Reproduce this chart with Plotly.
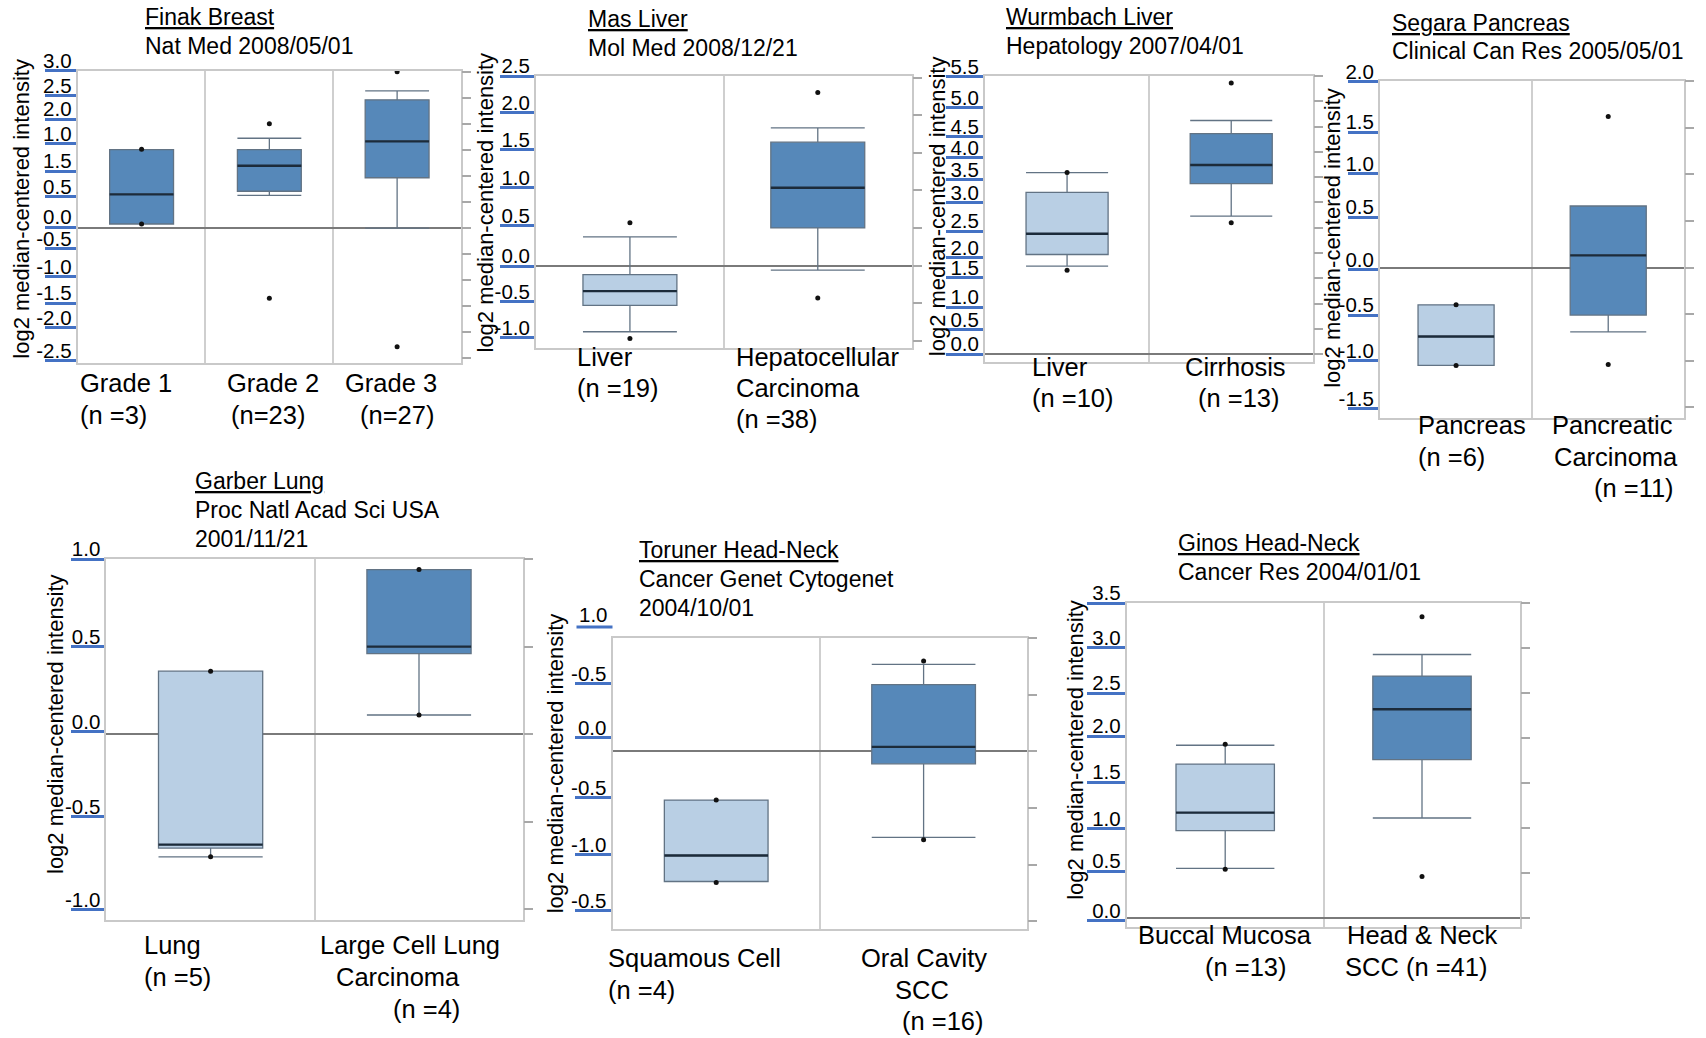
import plotly.graph_objects as go

W, H = 1706, 1038
FONT = "Liberation Sans, Arial, Helvetica, sans-serif"

# ------------------------------------------------------------------ data
FINAK_TITLE = ["Finak Breast", "Nat Med 2008/05/01"]
FINAK_CATS = ["Grade 1", "Grade 2", "Grade 3"]
FINAK_LABELS = [["Grade 1", "(n =3)"], ["Grade 2", "(n=23)"], ["Grade 3", "(n=27)"]]
FINAK_Q1 = [0.08, 0.71, 0.97]
FINAK_MED = [0.65, 1.20, 1.67]
FINAK_Q3 = [1.51, 1.51, 2.47]
FINAK_LO = [0.08, 0.63, 0.00]
FINAK_HI = [1.51, 1.73, 2.64]
FINAK_OUT = [[1.52, 0.08], [2.01, -1.35], [3.01, -2.28]]
FINAK_TICKTEXT = ["3.0", "2.5", "2.0", "1.0", "1.5", "0.5", "0.0", "-0.5", "-1.0", "-1.5", "-2.0", "-2.5"]
FINAK_TICKVALS = [3.03, 2.55, 2.10, 1.62, 1.10, 0.61, 0.02, -0.40, -0.93, -1.44, -1.92, -2.55]
FINAK_YRANGE = [-2.60, 3.03]
FINAK_SCALE = [-2.5, -2.0, -1.5, -1.0, -0.5, 0.0, 0.5, 1.0, 1.5, 2.0, 2.5, 3.0]

MAS_TITLE = ["Mas Liver", "Mol Med 2008/12/21"]
MAS_CATS = ["Liver", "Hepatocellular Carcinoma"]
MAS_LABELS = [["Liver", "(n =19)"], ["Hepatocellular", "Carcinoma", "(n =38)"]]
MAS_Q1 = [-0.53, 0.50]
MAS_MED = [-0.34, 1.035]
MAS_Q3 = [-0.12, 1.64]
MAS_LO = [-0.88, -0.06]
MAS_HI = [0.38, 1.83]
MAS_OUT = [[0.57, -0.97], [2.30, -0.43]]
MAS_TICKTEXT = ["2.5", "2.0", "1.5", "1.0", "0.5", "0.0", "-0.5", "-1.0"]
MAS_TICKVALS = [2.52, 2.03, 1.54, 1.04, 0.53, -0.01, -0.48, -0.96]
MAS_YRANGE = [-1.10, 2.52]
MAS_SCALE = [-1.0, -0.5, 0.0, 0.5, 1.0, 1.5, 2.0, 2.5]

WURM_TITLE = ["Wurmbach Liver", "Hepatology 2007/04/01"]
WURM_CATS = ["Liver", "Cirrhosis"]
WURM_LABELS = [["Liver", "(n =10)"], ["Cirrhosis", "(n =13)"]]
WURM_Q1 = [1.97, 3.37]
WURM_MED = [2.38, 3.74]
WURM_Q3 = [3.20, 4.36]
WURM_LO = [1.74, 2.73]
WURM_HI = [3.59, 4.62]
WURM_OUT = [[3.59, 1.66], [5.36, 2.60]]
WURM_TICKTEXT = ["5.5", "5.0", "4.5", "4.0", "3.5", "3.0", "2.5", "2.0", "1.5", "1.0", "0.5", "0.0"]
WURM_TICKVALS = [5.49, 4.88, 4.30, 3.89, 3.45, 2.99, 2.43, 1.91, 1.51, 0.93, 0.49, 0.0]
WURM_YRANGE = [-0.15, 5.5]
WURM_SCALE = [0.0, 0.5, 1.0, 1.5, 2.0, 2.5, 3.0, 3.5, 4.0, 4.5, 5.0, 5.5]

SEGARA_TITLE = ["Segara Pancreas", "Clinical Can Res 2005/05/01"]
SEGARA_CATS = ["Pancreas", "Pancreatic Carcinoma"]
SEGARA_LABELS = [["Pancreas", "(n =6)"], ["Pancreatic", "Carcinoma", "(n =11)"]]
SEGARA_Q1 = [-1.05, -0.51]
SEGARA_MED = [-0.74, 0.13]
SEGARA_Q3 = [-0.40, 0.66]
SEGARA_LO = [-1.05, -0.69]
SEGARA_HI = [-0.40, 0.66]
SEGARA_OUT = [[-0.40, -1.05], [1.62, -1.04]]
SEGARA_TICKTEXT = ["2.0", "1.5", "1.0", "0.5", "0.0", "-0.5", "-1.0", "-1.5"]
SEGARA_TICKVALS = [1.99, 1.45, 1.01, 0.54, -0.02, -0.51, -1.0, -1.51]
SEGARA_YRANGE = [-1.61, 2.0]
SEGARA_SCALE = [-1.5, -1.0, -0.5, 0.0, 0.5, 1.0, 1.5, 2.0]

GARBER_TITLE = ["Garber Lung", "Proc Natl Acad Sci USA", "2001/11/21"]
GARBER_CATS = ["Lung", "Large Cell Lung Carcinoma"]
GARBER_LABELS = [["Lung", "(n =5)"], ["Large Cell Lung", "Carcinoma", "(n =4)"]]
GARBER_Q1 = [-0.65, 0.46]
GARBER_MED = [-0.63, 0.50]
GARBER_Q3 = [0.36, 0.94]
GARBER_LO = [-0.70, 0.11]
GARBER_HI = [0.36, 0.94]
GARBER_OUT = [[0.36, -0.70], [0.94, 0.11]]
GARBER_TICKTEXT = ["1.0", "0.5", "0.0", "-0.5", "-1.0"]
GARBER_TICKVALS = [1.0, 0.50, 0.015, -0.47, -1.0]
GARBER_YRANGE = [-1.06, 1.0]
GARBER_SCALE = [-1.0, -0.5, 0.0, 0.5, 1.0]

TORUNER_TITLE = ["Toruner Head-Neck", "Cancer Genet Cytogenet", "2004/10/01"]
TORUNER_CATS = ["Squamous Cell", "Oral Cavity SCC"]
TORUNER_LABELS = [["Squamous Cell", "(n =4)"], ["Oral Cavity", "SCC", "(n =16)"]]
TORUNER_Q1 = [-1.15, -0.11]
TORUNER_MED = [-0.92, 0.04]
TORUNER_Q3 = [-0.43, 0.59]
TORUNER_LO = [-1.15, -0.76]
TORUNER_HI = [-0.43, 0.77]
TORUNER_OUT = [[-0.43, -1.16], [0.80, -0.78]]
TORUNER_TICKTEXT = ["1.0", "-0.5", "0.0", "-0.5", "-1.0", "-0.5"]
TORUNER_TICKVALS = [1.10, 0.60, 0.12, -0.41, -0.91, -1.41]
TORUNER_YRANGE = [-1.57, 1.0]
TORUNER_SCALE = [-1.5, -1.0, -0.5, 0.0, 0.5, 1.0]

GINOS_TITLE = ["Ginos Head-Neck", "Cancer Res 2004/01/01"]
GINOS_CATS = ["Buccal Mucosa", "Head & Neck SCC"]
GINOS_LABELS = [["Buccal Mucosa", "(n =13)"], ["Head & Neck", "SCC (n =41)"]]
GINOS_Q1 = [0.97, 1.76]
GINOS_MED = [1.17, 2.32]
GINOS_Q3 = [1.71, 2.69]
GINOS_LO = [0.55, 1.11]
GINOS_HI = [1.92, 2.93]
GINOS_OUT = [[1.93, 0.54], [3.35, 0.46]]
GINOS_TICKTEXT = ["3.5", "3.0", "2.5", "2.0", "1.5", "1.0", "0.5", "0.0"]
GINOS_TICKVALS = [3.50, 3.01, 2.50, 2.02, 1.51, 0.99, 0.52, -0.03]
GINOS_YRANGE = [-0.10, 3.5]
GINOS_SCALE = [0.0, 0.5, 1.0, 1.5, 2.0, 2.5, 3.0, 3.5]

Y_TITLE = "log2 median-centered intensity"

# ------------------------------------------------------------------ styles
DARK = "#5688b9"
LIGHT = "#b9cfe4"
BOX_LINE = "#627384"
MED_LINE = "#1c2b3a"
BLUE = "#4472c4"
FRAME = "#c9c9c9"
GRID = "#cfcfcf"

PANELS = [
    dict(title=FINAK_TITLE, cats=FINAK_CATS, labels=FINAK_LABELS, q1=FINAK_Q1, med=FINAK_MED, q3=FINAK_Q3,
         lo=FINAK_LO, hi=FINAK_HI, out=FINAK_OUT, ticktext=FINAK_TICKTEXT, tickvals=FINAK_TICKVALS,
         yrange=FINAK_YRANGE, scale=FINAK_SCALE,
         frame=(77.7, 70.7, 461, 363.3), ticklen=31, shades=[DARK, DARK, DARK],
         title_xy=(143.3, [16.7, 45.7]), ytitle_xy=(21.7, 209),
         label_x=[[78.3, 78.3], [225, 229.3], [342.7, 358.3]], label_y=[383.3, 415]),
    dict(title=MAS_TITLE, cats=MAS_CATS, labels=MAS_LABELS, q1=MAS_Q1, med=MAS_MED, q3=MAS_Q3,
         lo=MAS_LO, hi=MAS_HI, out=MAS_OUT, ticktext=MAS_TICKTEXT, tickvals=MAS_TICKVALS,
         yrange=MAS_YRANGE, scale=MAS_SCALE,
         frame=(536, 76, 911.7, 348.3), ticklen=34, shades=[LIGHT, DARK],
         title_xy=(586, [19, 47.7]), ytitle_xy=(485, 202.5),
         label_x=[[575, 575], [734.3, 734.3, 734.3]], label_y=[356.7, 388.3, 419.3]),
    dict(title=WURM_TITLE, cats=WURM_CATS, labels=WURM_LABELS, q1=WURM_Q1, med=WURM_MED, q3=WURM_Q3,
         lo=WURM_LO, hi=WURM_HI, out=WURM_OUT, ticktext=WURM_TICKTEXT, tickvals=WURM_TICKVALS,
         yrange=WURM_YRANGE, scale=WURM_SCALE,
         frame=(985, 76, 1313.3, 361.7), ticklen=37, shades=[LIGHT, DARK],
         title_xy=(1004.3, [16.7, 45.7]), ytitle_xy=(937.5, 206.7),
         label_x=[[1030, 1030], [1183.3, 1196]], label_y=[366.7, 398.3]),
    dict(title=SEGARA_TITLE, cats=SEGARA_CATS, labels=SEGARA_LABELS, q1=SEGARA_Q1, med=SEGARA_MED, q3=SEGARA_Q3,
         lo=SEGARA_LO, hi=SEGARA_HI, out=SEGARA_OUT, ticktext=SEGARA_TICKTEXT, tickvals=SEGARA_TICKVALS,
         yrange=SEGARA_YRANGE, scale=SEGARA_SCALE,
         frame=(1380, 81, 1684.3, 417.7), ticklen=30, shades=[LIGHT, DARK],
         title_xy=(1390, [23.3, 51]), ytitle_xy=(1332.5, 238.3),
         label_x=[[1415.7, 1415.7], [1550, 1551.7, 1591.7]], label_y=[425, 456.7, 488.3]),
    dict(title=GARBER_TITLE, cats=GARBER_CATS, labels=GARBER_LABELS, q1=GARBER_Q1, med=GARBER_MED, q3=GARBER_Q3,
         lo=GARBER_LO, hi=GARBER_HI, out=GARBER_OUT, ticktext=GARBER_TICKTEXT, tickvals=GARBER_TICKVALS,
         yrange=GARBER_YRANGE, scale=GARBER_SCALE,
         frame=(106.4, 559.1, 523.2, 919.9), ticklen=33, shades=[LIGHT, DARK],
         title_xy=(192.9, [481.1, 509.9, 538.8]), ytitle_xy=(55.4, 723.6),
         label_x=[[142.1, 142.1], [317.9, 333.9, 391.1]], label_y=[944.6, 977.2, 1009.4]),
    dict(title=TORUNER_TITLE, cats=TORUNER_CATS, labels=TORUNER_LABELS, q1=TORUNER_Q1, med=TORUNER_MED,
         q3=TORUNER_Q3, lo=TORUNER_LO, hi=TORUNER_HI, out=TORUNER_OUT, ticktext=TORUNER_TICKTEXT,
         tickvals=TORUNER_TICKVALS, yrange=TORUNER_YRANGE, scale=TORUNER_SCALE,
         frame=(612.5, 638.3, 1027.3, 929), ticklen=36, shades=[LIGHT, DARK],
         title_xy=(637.3, [550, 579.3, 608.3]), ytitle_xy=(555, 763.3),
         label_x=[[606, 606], [859.3, 893.3, 900]], label_y=[958.3, 990, 1020.7]),
    dict(title=GINOS_TITLE, cats=GINOS_CATS, labels=GINOS_LABELS, q1=GINOS_Q1, med=GINOS_MED, q3=GINOS_Q3,
         lo=GINOS_LO, hi=GINOS_HI, out=GINOS_OUT, ticktext=GINOS_TICKTEXT, tickvals=GINOS_TICKVALS,
         yrange=GINOS_YRANGE, scale=GINOS_SCALE,
         frame=(1126.8, 603.3, 1520.4, 926.7), ticklen=38, shades=[LIGHT, DARK],
         title_xy=(1175.7, [543.3, 572.3]), ytitle_xy=(1074.8, 750),
         label_x=[[1136.4, 1202.5], [1345.4, 1342.9]], label_y=[935, 966.7]),
]

TITLE_SIZE = 23
CAT_SIZE = 25.5
TICK_SIZE = 20.5
YTITLE_SIZE = 22
LABEL_LIFT = -10


def px(x):
    return x / W


def py(y):
    return 1 - y / H


fig = go.Figure()
layout = dict(
    width=W, height=H, margin=dict(l=0, r=0, t=0, b=0, pad=0, autoexpand=False),
    paper_bgcolor="white", plot_bgcolor="white",
    showlegend=False, boxmode="overlay",
    font=dict(family=FONT, color="black"),
)
annotations = []
shapes = []
n_panels = len(PANELS)

for i, p in enumerate(PANELS, start=1):
    L, T, R, B = p["frame"]
    xr = "x" if i == 1 else f"x{i}"
    yr = "y" if i == 1 else f"y{i}"
    xkey = "xaxis" if i == 1 else f"xaxis{i}"
    ykey = "yaxis" if i == 1 else f"yaxis{i}"
    rid = i + n_panels
    rkey = f"yaxis{rid}"
    rr = f"y{rid}"
    ncat = len(p["cats"])
    ylo, yhi = p["yrange"]

    # boxes
    for k, cat in enumerate(p["cats"]):
        fig.add_trace(go.Box(
            x=[cat], q1=[p["q1"][k]], median=[p["med"][k]], q3=[p["q3"][k]],
            lowerfence=[p["lo"][k]], upperfence=[p["hi"][k]],
            width=0.5, whiskerwidth=1, boxpoints=False,
            fillcolor=p["shades"][k], line=dict(color=BOX_LINE, width=1.3),
            xaxis=xr, yaxis=yr, hoverinfo="skip"))
        m = p["med"][k]
        fig.add_trace(go.Box(
            x=[cat], q1=[m], median=[m], q3=[m], lowerfence=[m], upperfence=[m],
            width=0.5, whiskerwidth=0, boxpoints=False,
            fillcolor="rgba(0,0,0,0)", line=dict(color=MED_LINE, width=2.4),
            xaxis=xr, yaxis=yr, hoverinfo="skip"))
        outs = p["out"][k]
        fig.add_trace(go.Scatter(
            x=[cat] * len(outs), y=outs, mode="markers",
            marker=dict(size=5, color="#111111"), cliponaxis=False,
            xaxis=xr, yaxis=yr, hoverinfo="skip"))
    # invisible trace so the right-hand scale axis is built
    fig.add_trace(go.Scatter(x=[p["cats"][0]], y=[None], mode="markers",
                             xaxis=xr, yaxis=rr, hoverinfo="skip"))

    layout[xkey] = dict(
        domain=[px(L), px(R)], anchor=yr, type="category",
        categoryorder="array", categoryarray=p["cats"], range=[-0.5, ncat - 0.5],
        showticklabels=False, ticks="", tickson="boundaries",
        showgrid=True, gridcolor=GRID, gridwidth=1.5,
        showline=True, linecolor=FRAME, linewidth=2, mirror=True,
        zeroline=False, fixedrange=True, automargin=False)

    in_vals, in_text = [], []
    for v, t in zip(p["tickvals"], p["ticktext"]):
        if ylo - 1e-9 <= v <= yhi + 1e-9:
            in_vals.append(v)
            in_text.append(t)
        else:
            # label sits above the axis range: draw it beside the axis in page space
            ypix = T + (yhi - v) / (yhi - ylo) * (B - T)
            shapes.append(dict(type="line", xref="paper", yref="paper",
                               x0=px(L - p["ticklen"]), x1=px(L), y0=py(ypix), y1=py(ypix),
                               line=dict(color=BLUE, width=3)))
            annotations.append(dict(text=t, xref="paper", yref="paper", x=px(L - 3), y=py(ypix - 12),
                                    xanchor="right", yanchor="middle", showarrow=False,
                                    font=dict(size=TICK_SIZE, family=FONT, color="black")))

    layout[ykey] = dict(
        domain=[py(B), py(T)], anchor=xr, range=[ylo, yhi],
        tickmode="array", tickvals=in_vals, ticktext=in_text,
        ticks="outside", ticklen=p["ticklen"], tickwidth=3, tickcolor=BLUE,
        tickfont=dict(size=TICK_SIZE, family=FONT, color="black"),
        ticklabelstandoff=-p["ticklen"], ticklabelshift=LABEL_LIFT,
        showgrid=False, zeroline=True, zerolinecolor="#7a7a7a", zerolinewidth=1.5,
        showline=True, linecolor=FRAME, linewidth=2, mirror=True, fixedrange=True,
        automargin=False)

    layout[rkey] = dict(
        overlaying=yr, anchor=xr, side="right", range=[ylo, yhi],
        tickmode="array", tickvals=p["scale"], ticks="outside", ticklen=9,
        tickwidth=1.5, tickcolor="#a8a8a8", showticklabels=False,
        showgrid=False, zeroline=False, showline=False, fixedrange=True, automargin=False)

    # titles
    tx, tys = p["title_xy"]
    for li, (line, ty) in enumerate(zip(p["title"], tys)):
        text = f"<u>{line}</u>" if li == 0 else line
        annotations.append(dict(text=text, xref="paper", yref="paper", x=px(tx), y=py(ty),
                                xanchor="left", yanchor="middle", showarrow=False,
                                font=dict(size=TITLE_SIZE, family=FONT, color="black")))

    # category labels
    for k, lines in enumerate(p["labels"]):
        for li, line in enumerate(lines):
            annotations.append(dict(text=line, xref="paper", yref="paper",
                                    x=px(p["label_x"][k][li]), y=py(p["label_y"][li]),
                                    xanchor="left", yanchor="middle", showarrow=False,
                                    font=dict(size=CAT_SIZE, family=FONT, color="black")))

    # y-axis title
    yx, yy = p["ytitle_xy"]
    annotations.append(dict(text=Y_TITLE, xref="paper", yref="paper", x=px(yx), y=py(yy),
                            xanchor="center", yanchor="middle", textangle=-90, showarrow=False,
                            font=dict(size=YTITLE_SIZE, family=FONT, color="black")))

layout["annotations"] = annotations
layout["shapes"] = shapes
fig.update_layout(**layout)

fig.write_html("out.html", config={"displayModeBar": False},
               post_script="document.body.style.margin='0';document.body.style.overflow='hidden';")
